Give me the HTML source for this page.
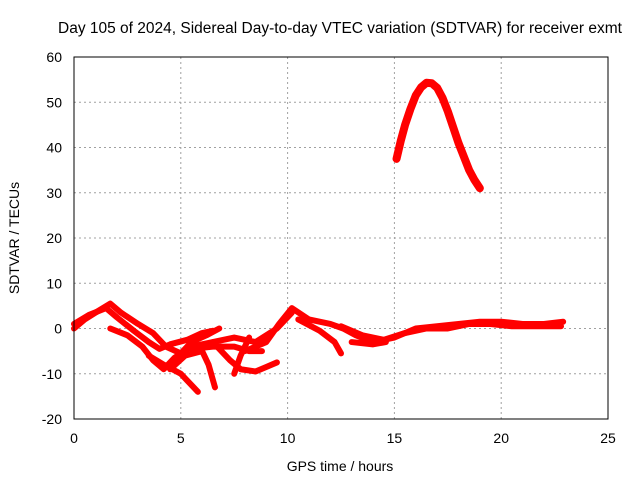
<!DOCTYPE html>
<html><head><meta charset="utf-8"><style>
body{margin:0;background:#fff}
svg{display:block;font-family:"Liberation Sans",sans-serif}
</style></head><body>
<svg id="chart" width="640" height="480" xmlns="http://www.w3.org/2000/svg">
<text x="340" y="33" font-size="15.5" text-anchor="middle">Day 105 of 2024, Sidereal Day-to-day VTEC variation (SDTVAR) for receiver exmt</text>
<text x="340" y="471" font-size="14" text-anchor="middle">GPS time / hours</text>
<text transform="translate(19,238) rotate(-90)" font-size="14" text-anchor="middle">SDTVAR / TECUs</text>
<g id="grid"></g><g id="ticks"></g><g id="series"></g>
<rect x="74" y="57" width="534" height="362" fill="none" stroke="#000" stroke-width="1"/>
</svg>
<script>
const xTicks=[0,5,10,15,20,25];
const yTicks=[-20,-10,0,10,20,30,40,50,60];
const seriesA=[[0,0],[0.5,2],[1,3.5],[1.7,5.5],[2.2,3.5],[3,1],[3.7,-1],[4.3,-4],[5,-5.5],[5.5,-3],[6.2,-1.5],[6.8,0]];
const seriesB=[[0,1],[0.7,3],[1.5,4.5],[2,2.5],[2.8,-0.5],[3.5,-3],[4,-4.5],[4.5,-3.5],[5.3,-2.5],[6,-1],[6.5,-0.5]];
const seriesC=[[1.7,0],[2.5,-1.5],[3.2,-4],[3.7,-7],[4.2,-9],[4.7,-6.5],[5.5,-4],[6.5,-3],[7.5,-2],[8.5,-3],[9.5,0],[10.2,3.5]];
const seriesD=[[3.5,-6],[4.2,-8],[5,-10],[5.8,-14]];
const seriesE=[[4.5,-9],[5.2,-6],[6,-5],[6.3,-8],[6.6,-13]];
const seriesF=[[5.5,-4.5],[6.5,-4],[7.5,-4],[8.2,-5],[8.8,-5]];
const seriesG=[[6.5,-3],[7.3,-7],[7.8,-9],[8.5,-9.5],[9,-8.5],[9.5,-7.5]];
const seriesH=[[8.2,-2],[7.8,-6],[7.5,-10]];
const seriesI=[[8,-5],[9,-3],[9.6,1],[10.2,4.5],[11,2],[12,1],[12.6,0],[13.2,-1.5],[14,-3],[15,-2],[16,0],[17,0.5],[18,1],[19,1.5],[20,1.5],[21,1],[22,1],[22.9,1.5]];
const seriesJ=[[10.5,2],[11.5,-0.5],[12.2,-3],[12.5,-5.5]];
const seriesK=[[12.5,0.5],[13.5,-1.5],[14.5,-2.5],[15.5,-1],[16.5,0],[17.5,0],[18.5,1],[19.5,1],[20.5,0.5],[21.5,0.5],[22.8,0.5]];
const seriesL=[[13,-3],[14,-3.5],[14.6,-3]];
const seriesPeak=[[15.1,37.5],[15.3,41.5],[15.5,45],[15.75,48.5],[16,51.5],[16.25,53.3],[16.5,54.3],[16.75,54.2],[17,53.2],[17.25,51],[17.5,48],[17.75,44.5],[18,41],[18.25,38],[18.5,35],[18.75,32.8],[19,31]];
const allSeries=[seriesA,seriesB,seriesC,seriesD,seriesE,seriesF,seriesG,seriesH,seriesI,seriesJ,seriesK,seriesL,seriesPeak];
const NS="http://www.w3.org/2000/svg";
const X0=74,X1=608,Y0=419,Y1=57;
const sx=h=>X0+(h-0)/(25-0)*(X1-X0);
const sy=v=>Y0-(v+20)/(60+20)*(Y0-Y1);
const grid=document.getElementById('grid'),ticks=document.getElementById('ticks'),ser=document.getElementById('series');
function mk(tag,attrs,parent){const e=document.createElementNS(NS,tag);for(const k in attrs)e.setAttribute(k,attrs[k]);parent.appendChild(e);return e;}
xTicks.forEach(t=>{
  const x=sx(t);
  if(t>0&&t<25){const g=mk('line',{x1:x,x2:x,y1:Y1,y2:Y0,stroke:'#a0a0a0','stroke-dasharray':'2,3'},grid);
  
  }
  const l=mk('text',{x:x,y:443,'font-size':14,'text-anchor':'middle'},ticks);
  l.textContent=t;
  
  
});
yTicks.forEach(t=>{
  const y=sy(t);
  if(t>-20&&t<60){const g=mk('line',{x1:X0,x2:X1,y1:y,y2:y,stroke:'#a0a0a0','stroke-dasharray':'2,3'},grid);
  
  }
  const l=mk('text',{x:62,y:y+5,'font-size':14,'text-anchor':'end'},ticks);
  l.textContent=t;
  
  
});
allSeries.forEach((s,i)=>{
  const w=(s===seriesPeak)?8:6;
  const p=mk('polyline',{points:s.map(d=>sx(d[0])+','+sy(d[1])).join(' '),fill:'none',stroke:'#ff0000','stroke-width':w,'stroke-linejoin':'round','stroke-linecap':'round'},ser);
  
  
});
</script>
</body></html>
